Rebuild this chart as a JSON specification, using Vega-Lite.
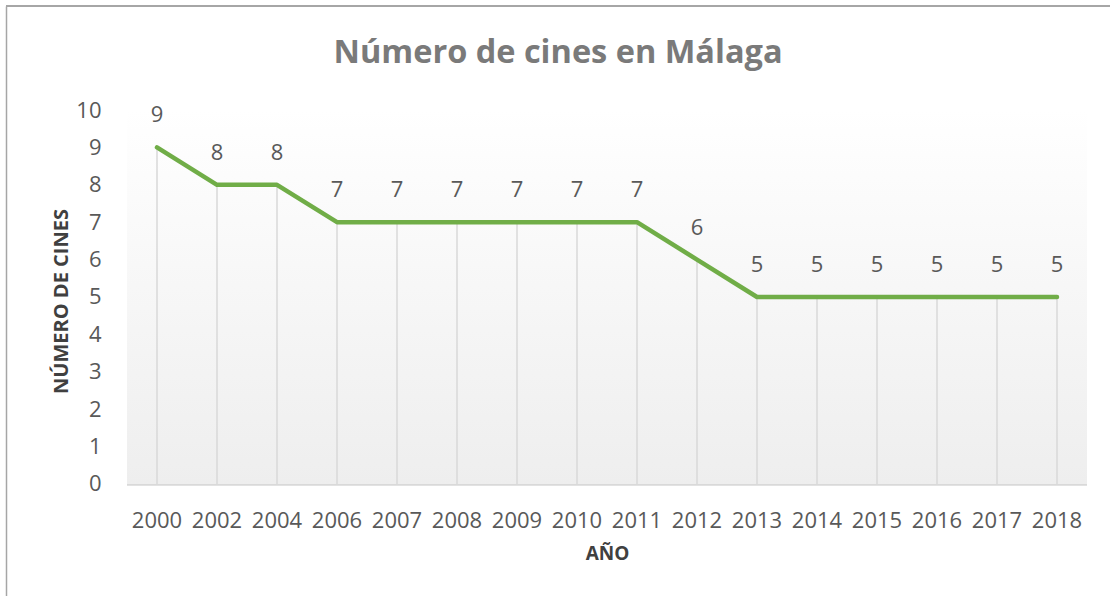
{
  "$schema": "https://vega.github.io/schema/vega-lite/v6.json",
  "autosize": "none",
  "width": 1104,
  "height": 590,
  "padding": {"left": 6, "top": 6, "right": 0, "bottom": 0},
  "background": "white",
  "title": {
    "text": "Número de cines en Málaga",
    "fontSize": 32.5,
    "fontWeight": "bold",
    "color": "#7a7a7a",
    "font": "Open Sans",
    "anchor": "middle",
    "frame": "group",
    "baseline": "alphabetic",
    "offset": -90
  },
  "data": {
    "values": [
      {"year": "2000", "n": 9},
      {"year": "2002", "n": 8},
      {"year": "2004", "n": 8},
      {"year": "2006", "n": 7},
      {"year": "2007", "n": 7},
      {"year": "2008", "n": 7},
      {"year": "2009", "n": 7},
      {"year": "2010", "n": 7},
      {"year": "2011", "n": 7},
      {"year": "2012", "n": 6},
      {"year": "2013", "n": 5},
      {"year": "2014", "n": 5},
      {"year": "2015", "n": 5},
      {"year": "2016", "n": 5},
      {"year": "2017", "n": 5},
      {"year": "2018", "n": 5}
    ]
  },
  "encoding": {
    "x": {
      "field": "year",
      "type": "ordinal",
      "sort": null,
      "scale": {"type": "band", "paddingInner": 0, "paddingOuter": 0, "range": [121, 1081]},
      "axis": {
        "orient": "top",
        "title": "AÑO",
        "titleFontSize": 19,
        "titleFontWeight": "bold",
        "titleColor": "#404040",
        "titleX": 601,
        "titleY": 547,
        "titleBaseline": "middle",
        "titleAlign": "center",
        "titleAnchor": null,
        "domain": false,
        "ticks": false,
        "grid": false,
        "labelAngle": 0,
        "labelFontSize": 22,
        "labelColor": "#595959",
        "labelBaseline": "middle",
        "labelPadding": -514
      }
    }
  },
  "layer": [
    {
      "mark": {
        "type": "rect",
        "fill": {
          "gradient": "linear",
          "x1": 0, "y1": 0, "x2": 0, "y2": 1,
          "stops": [
            {"offset": 0, "color": "#ffffff"},
            {"offset": 1, "color": "#eeeeee"}
          ]
        },
        "strokeWidth": 0
      },
      "encoding": {
        "y": {"datum": 10, "type": "quantitative"},
        "y2": {"datum": 0}
      }
    },
    {
      "mark": {"type": "rect", "fill": "#d9d9d9", "strokeWidth": 0},
      "encoding": {
        "y": {"datum": 0, "type": "quantitative"},
        "y2": {"datum": -0.05}
      }
    },
    {
      "mark": {"type": "rule", "color": "#d9d9d9", "strokeWidth": 1.5},
      "encoding": {
        "y": {"field": "n", "type": "quantitative"},
        "y2": {"datum": 0}
      }
    },
    {
      "mark": {"type": "rule", "color": "#a6a6a6", "strokeWidth": 1.5},
      "encoding": {
        "x": null,
        "y": {"datum": 12.781, "type": "quantitative"}
      }
    },
    {
      "mark": {"type": "line", "color": "#70ad47", "strokeWidth": 4.5, "strokeJoin": "round", "strokeCap": "round"},
      "encoding": {
        "y": {
          "field": "n",
          "type": "quantitative",
          "scale": {"domain": [-2.995, 12.781], "nice": false, "zero": false},
          "axis": {
            "orient": "left",
            "values": [0, 1, 2, 3, 4, 5, 6, 7, 8, 9, 10],
            "title": "NÚMERO DE CINES",
            "titleFontSize": 20,
            "titleFontWeight": "bold",
            "titleColor": "#404040",
            "titleAngle": -90,
            "titleX": 55.5,
            "titleY": 295,
            "titleBaseline": "middle",
            "titleAlign": "center",
            "titleAnchor": null,
            "domain": true,
            "domainColor": "#a6a6a6",
            "domainWidth": 1.5,
            "ticks": false,
            "grid": false,
            "labelFontSize": 22,
            "labelColor": "#595959",
            "labelAlign": "right",
            "labelBaseline": "middle",
            "labelPadding": -95
          }
        }
      }
    },
    {
      "mark": {"type": "text", "dy": -32, "baseline": "middle", "fontSize": 22, "color": "#595959", "font": "Open Sans"},
      "encoding": {
        "y": {"field": "n", "type": "quantitative"},
        "text": {"field": "n", "type": "quantitative"}
      }
    }
  ],
  "config": {
    "font": "Open Sans",
    "view": {"stroke": null}
  }
}
